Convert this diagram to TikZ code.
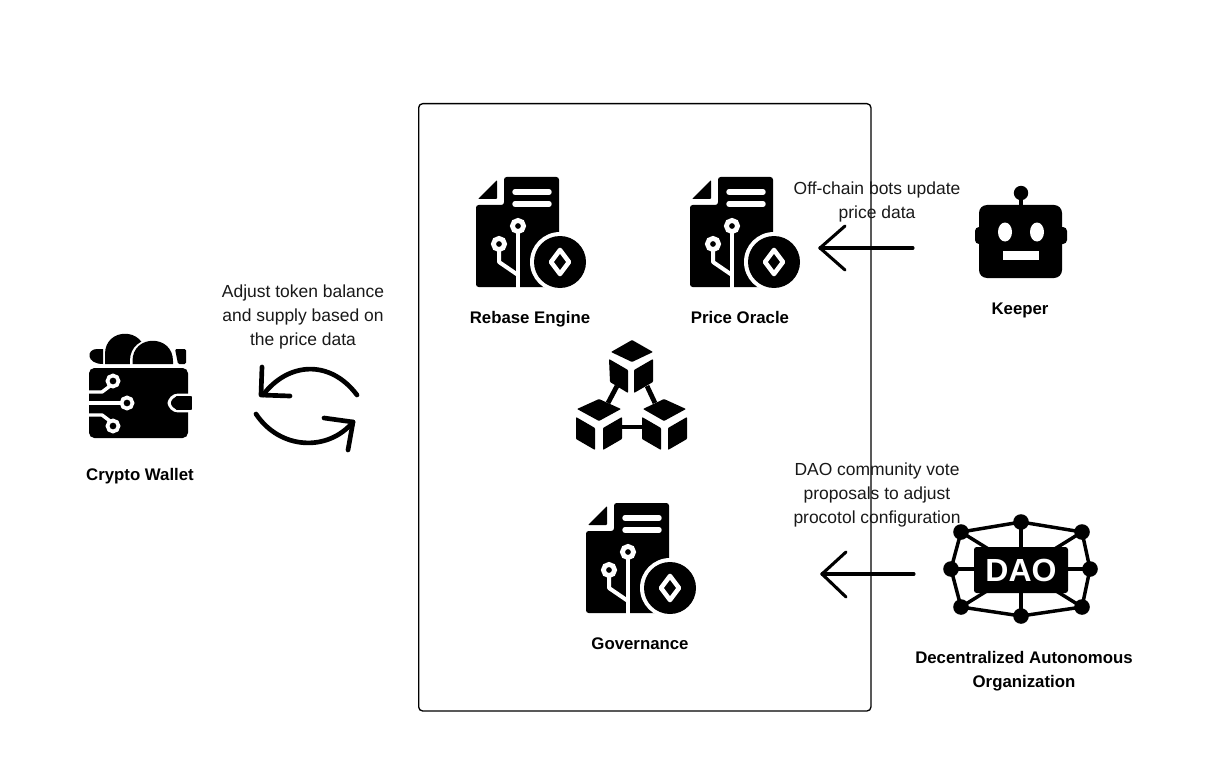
\documentclass[tikz,border=0pt]{standalone}
\usepackage{fontspec}
\setmainfont{Liberation Sans}
\tikzset{
  x=0.75pt,y=-0.75pt,
  lab/.style={align=center,inner sep=0pt,font=\fontsize{13.1}{18}\selectfont,text=black!90},
  blab/.style={align=center,inner sep=0pt,font=\fontsize{12.6}{18}\selectfont\bfseries,text=black},
  wl/.style={white,line width=4.1pt,line cap=round},
  wt/.style={white,line width=3pt},
  ink/.style={black,line width=3.5pt,line cap=round,line join=round},
  arrowline/.style={black,line width=2.3pt,line cap=round,line join=round},
  cube/.style={fill=black,rounded corners=0.6pt},
  docicon/.pic={
    \fill[black,rounded corners=2pt] (28,0) -- (83,0) -- (83,70) -- (83,110) -- (0,110) -- (0,28) -- (28,28) -- cycle;
    \fill[black,rounded corners=0.6pt] (21,3) -- (21,22) -- (2,22) -- cycle;
    \draw[wl] (39,15) -- (73,15);
    \draw[wl] (39,27) -- (73,27);
    \draw[wt] (42,56) -- (42,112);
    \draw[wt,line join=round] (23,74) -- (23,85) -- (42,98);
    \filldraw[draw=white,fill=black,line width=3.6pt] (42,49) circle (5.6);
    \filldraw[draw=white,fill=black,line width=3.6pt] (23,67) circle (5.6);
    \fill[white] (84,85) circle (30);
    \fill[black] (84,85) circle (26);
    \draw[white,fill=black,line width=3.4pt,line join=round] (84,73) -- (93,85) -- (84,97) -- (75,85) -- cycle;
  }
}
\begin{document}
\begin{tikzpicture}
\useasboundingbox (0,0) rectangle (1210,770);
\fill[white] (0,0) rectangle (1210,770);

% frame
\node[draw=black,line width=1pt,rounded corners=3pt,minimum width=339.2pt,minimum height=455.5pt,inner sep=0pt,anchor=north west] (frame) at (418,103) {};

% document icons
\pic at (476,177) {docicon};
\pic at (690,177) {docicon};
\pic at (586,503) {docicon};

% blockchain cubes
\fill[cube] (632,340) -- (653,352) -- (632,362) -- (611,352) -- cycle;
\fill[cube] (609,359) -- (628,370) -- (628,393) -- (610,382) -- cycle;
\fill[cube] (653,359) -- (634,370) -- (634,393) -- (653,382) -- cycle;
\fill[cube] (599,399) -- (621,409) -- (599,421) -- (577,409) -- cycle;
\fill[cube] (576,417) -- (595,428) -- (595,450) -- (576,439) -- cycle;
\fill[cube] (622,417) -- (603,428) -- (603,450) -- (622,439) -- cycle;
\fill[cube] (664,399) -- (686,409) -- (664,421) -- (643,409) -- cycle;
\fill[cube] (642,417) -- (661,428) -- (661,450) -- (642,439) -- cycle;
\fill[cube] (687,417) -- (668,428) -- (668,450) -- (687,439) -- cycle;
\draw[black,line width=3.6pt] (617,386) -- (608,403);
\draw[black,line width=3.6pt] (647,386) -- (655,403);
\draw[black,line width=3.2pt] (622,427) -- (642,427);

% wallet
\fill[black] (105,364) -- (105,354) .. controls (105,327) and (145,327) .. (145,354) -- (145,364) -- cycle;
\fill[white] (130,366) -- (130,361) .. controls (130,332) and (175,332) .. (175,361) -- (175,366) -- cycle;
\fill[black] (132.5,364) -- (132.5,361) .. controls (132.5,334) and (173,334) .. (173,361) -- (173,364) -- cycle;
\fill[black] (103,349) -- (97,349) .. controls (86,349) and (86,364) .. (103,364) -- cycle;
\fill[black,rounded corners=1pt] (175,349) -- (186,349) -- (186,364) -- (178,364) -- cycle;
\fill[black,rounded corners=4pt] (89,368) rectangle (188,438);
\draw[white,line width=2.2pt,fill=black,rounded corners=7pt] (195,395) -- (169,395) -- (169,411) -- (195,411);
\fill[black,rounded corners=1pt] (175,396.2) rectangle (192,409.8);
\fill[white] (192,394) rectangle (197,412);
\draw[wt,line join=round,line width=2.6pt] (89,392) -- (102,392) -- (110,386);
\draw[wt,line width=2.6pt] (89,403) -- (120,403);
\draw[wt,line join=round,line width=2.6pt] (89,415) -- (102,415) -- (110,421);
\filldraw[draw=white,fill=black,line width=2.8pt] (113,381) circle (5.5);
\filldraw[draw=white,fill=black,line width=2.8pt] (127,403) circle (5.5);
\filldraw[draw=white,fill=black,line width=2.8pt] (113,426) circle (5.5);

% sync arrows
\draw[ink] (357,395) .. controls (330,359) and (288,362) .. (263,395);
\draw[ink] (262,367) -- (261,395) -- (290,396);
\draw[ink] (256,414) .. controls (280,450) and (328,452) .. (353,422);
\draw[ink] (324,418) -- (353,422) -- (348,450);

% robot
\draw[black,line width=3pt] (1021,192) -- (1021,207);
\fill[black] (1021,193) circle (7.2);
\fill[black,rounded corners=3pt] (975,227) rectangle (1067,244);
\fill[black,rounded corners=6pt] (979,205) rectangle (1062,278);
\fill[white] (1005,232) ellipse (7 and 9.5);
\fill[white] (1037,232) ellipse (7 and 9.5);
\fill[white] (1003,251) rectangle (1039,260);

% DAO
\draw[black,line width=2.6pt,line join=round] (961,532) -- (1021,522) -- (1082,532) -- (1090,569) -- (1082,607) -- (1021,616) -- (961,607) -- (951,569) -- cycle;
\draw[black,line width=2.6pt] (1021,522) -- (1021,616);
\draw[black,line width=2.6pt] (951,569) -- (1090,569);
\draw[black,line width=2.6pt] (961,532) -- (1082,607);
\draw[black,line width=2.6pt] (1082,532) -- (961,607);
\node[fill=black,rounded corners=2pt,minimum width=70.5pt,minimum height=34.5pt,inner sep=0pt,text=white,font=\fontsize{24}{24}\selectfont\bfseries] (daotext) at (1021,570) {DAO};
\foreach \p in {(1021,522),(961,532),(1082,532),(951,569),(1090,569),(961,607),(1082,607),(1021,616)}
  \fill[black] \p circle (7.8);

% arrows
\coordinate (k0) at (913,248);
\coordinate (k1) at (820,248);
\coordinate (ka) at (845,226);
\coordinate (kb) at (845,270);
\draw[arrowline] (k0) -- (k1);
\draw[arrowline] (ka) -- (k1) -- (kb);
\coordinate (d0) at (914,574);
\coordinate (d1) at (822,574);
\coordinate (da) at (846,552);
\coordinate (db) at (846,597);
\draw[arrowline] (d0) -- (d1);
\draw[arrowline] (da) -- (d1) -- (db);

% labels
\node[blab,anchor=base] (l1) at (530,323.5) {Rebase Engine};
\node[blab,anchor=base] (l2) at (740,323.5) {Price Oracle};
\node[blab,anchor=base] (l3) at (1020,314.5) {Keeper};
\node[blab,anchor=base] (l4) at (140,480.5) {Crypto Wallet};
\node[blab,anchor=base] (l5) at (640,649.5) {Governance};
\node[blab] (l6) at (1024,671) {Decentralized Autonomous\\Organization};
\node[lab] (t1) at (303,317) {Adjust token balance\\and supply based on\\the price data};
\node[lab] (t2) at (877,202) {Off-chain bots update\\price data};
\node[lab] (t3) at (877,495) {DAO community vote\\proposals to adjust\\procotol configuration};
\end{tikzpicture}
\end{document}
